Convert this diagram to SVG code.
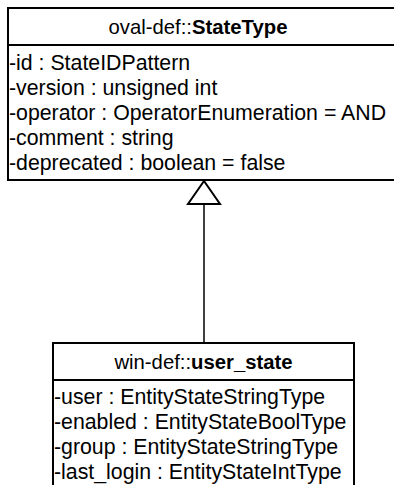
<svg xmlns="http://www.w3.org/2000/svg" width="394" height="485" viewBox="0 0 394 485">
<style>
.box{fill:#fff;stroke:#000;stroke-width:2}
.sep{stroke:#000;stroke-width:2}
text{font-family:"Liberation Sans",Arial,sans-serif;font-size:21.3px;fill:#000}
.h{text-anchor:middle;font-size:20.3px}
.b{font-weight:bold}
.conn{stroke:#000;stroke-width:1.5;fill:none}
.tri{fill:#fff;stroke:#000;stroke-width:2}
</style>
<rect width="394" height="485" fill="#fff"/>
<g id="connectors">
<line class="conn" x1="204" y1="204" x2="204" y2="343"/>
<polygon class="tri" points="204,181 188,204 220,204"/>
</g>
<g id="StateType">
<rect class="box" x="8" y="8" width="400" height="172"/>
<line class="sep" x1="8" y1="45" x2="408" y2="45"/>
<text class="h" x="198" y="34">oval-def::<tspan class="b">StateType</tspan></text>
<text x="9" y="70">-id : StateIDPattern</text>
<text x="9" y="95">-version : unsigned int</text>
<text x="9" y="120">-operator : OperatorEnumeration = AND</text>
<text x="9" y="145">-comment : string</text>
<text x="9" y="170">-deprecated : boolean = false</text>
</g>
<g id="user_state">
<rect class="box" x="53" y="343" width="301" height="150"/>
<line class="sep" x1="53" y1="380" x2="354" y2="380"/>
<text class="h" x="203.5" y="369">win-def::<tspan class="b">user_state</tspan></text>
<text x="54" y="404">-user : EntityStateStringType</text>
<text x="54" y="429">-enabled : EntityStateBoolType</text>
<text x="54" y="454">-group : EntityStateStringType</text>
<text x="54" y="479">-last_login : EntityStateIntType</text>
</g>
</svg>
